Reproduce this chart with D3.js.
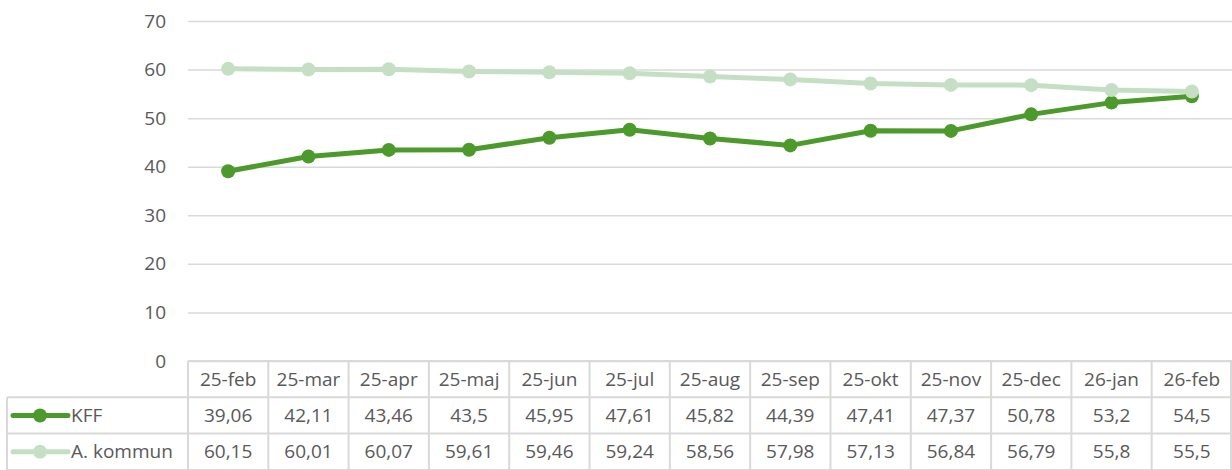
<!DOCTYPE html>
<html>
<head>
<meta charset="utf-8">
<script src="https://cdn.jsdelivr.net/npm/d3@7"></script>
<style>
  body { margin: 0; background: #fff; }
  svg { display: block; font-family: "Open Sans", "Liberation Sans", Arial, sans-serif; }
</style>
</head>
<body>
<svg width="1232" height="470"></svg>
<script>
// months on the x axis
var months = ['25-feb', '25-mar', '25-apr', '25-maj', '25-jun', '25-jul', '25-aug',
  '25-sep', '25-okt', '25-nov', '25-dec', '26-jan', '26-feb'];
var kff = [39.06, 42.11, 43.46, 43.5, 45.95, 47.61, 45.82, 44.39, 47.41, 47.37, 50.78, 53.2, 54.5];
var kommun = [60.15, 60.01, 60.07, 59.61, 59.46, 59.24, 58.56, 57.98, 57.13, 56.84, 56.79, 55.8, 55.5];
var yTicks = [0, 10, 20, 30, 40, 50, 60, 70];
var seriesNames = ['KFF', 'A. kommun'];
var seriesColors = ['#4b9a2b', '#c5dfc4'];

var svg = d3.select('svg');
var plotLeft = 188, plotRight = 1232, plotTop = 21, plotBottom = 361;
var rowH = 36.3;
var grid = '#d9d9d9', textCol = '#595959';
var fs = '19px';

// scales
var x = d3.scaleBand().domain(months).range([plotLeft, plotRight]);
var y = d3.scaleLinear().domain([0, 70]).range([plotBottom, plotTop]);
var cx = function (i) { return x(months[i]) + x.bandwidth() / 2; };

// gridlines + y labels
var yAxis = d3.axisLeft(y).tickValues(yTicks).tickSize(-(plotRight - plotLeft)).tickPadding(22);
var gy = svg.append('g').attr('transform', 'translate(' + plotLeft + ',0)').call(yAxis);
gy.select('.domain').remove();
gy.selectAll('line').attr('stroke', grid).attr('stroke-width', 1.5);
gy.selectAll('text').attr('fill', textCol).style('font-size', fs)
  .style('font-family', '"Open Sans", sans-serif');

// lines, KFF first so A. kommun sits on top
var series = [kff, kommun];
var line = d3.line()
  .x(function (d, i) { return cx(i); })
  .y(function (d) { return y(d); });

[0, 1].forEach(function (s) {
  svg.append('path')
    .datum(series[s])
    .attr('d', line)
    .attr('fill', 'none')
    .attr('stroke', seriesColors[s])
    .attr('stroke-width', 5)
    .attr('stroke-linejoin', 'round');
  svg.append('g').selectAll('circle')
    .data(series[s])
    .enter().append('circle')
    .attr('cx', function (d, i) { return cx(i); })
    .attr('cy', function (d) { return y(d); })
    .attr('r', 7)
    .attr('fill', seriesColors[s]);
});

// data table
var tbl = svg.append('g');
var tableLeft = 7;
[plotBottom + rowH, plotBottom + rowH * 2, 470].forEach(function (yy) {
  tbl.append('line').attr('x1', tableLeft).attr('x2', plotRight)
    .attr('y1', yy).attr('y2', yy).attr('stroke', grid).attr('stroke-width', 2);
});
tbl.append('line').attr('x1', plotLeft).attr('x2', plotRight)
  .attr('y1', plotBottom).attr('y2', plotBottom).attr('stroke', grid).attr('stroke-width', 2);
months.forEach(function (m) {
  tbl.append('line').attr('x1', x(m)).attr('x2', x(m))
    .attr('y1', plotBottom).attr('y2', 470).attr('stroke', grid).attr('stroke-width', 2);
});
tbl.append('line').attr('x1', plotRight - 1).attr('x2', plotRight - 1)
  .attr('y1', plotBottom).attr('y2', 470).attr('stroke', grid).attr('stroke-width', 2);
tbl.append('line').attr('x1', tableLeft).attr('x2', tableLeft)
  .attr('y1', plotBottom + rowH).attr('y2', 470).attr('stroke', grid).attr('stroke-width', 2);

// header labels
tbl.append('g').selectAll('text').data(months).enter().append('text')
  .attr('x', function (d) { return x(d) + x.bandwidth() / 2; })
  .attr('y', plotBottom + rowH / 2 + 6.5)
  .attr('text-anchor', 'middle')
  .attr('fill', textCol).style('font-size', fs)
  .text(function (d) { return d; });

var fmt = function (v) { return String(v).replace('.', ','); };
series.forEach(function (vals, s) {
  var cy = plotBottom + rowH * (s + 1) + rowH / 2;
  tbl.append('g').selectAll('text').data(vals).enter().append('text')
    .attr('x', function (d, i) { return cx(i); })
    .attr('y', cy + 6.5)
    .attr('text-anchor', 'middle')
    .attr('fill', textCol).style('font-size', fs)
    .text(fmt);
  // legend key
  tbl.append('line').attr('x1', 13).attr('x2', 68).attr('y1', cy).attr('y2', cy)
    .attr('stroke', seriesColors[s]).attr('stroke-width', 5).attr('stroke-linecap', 'round');
  tbl.append('circle').attr('cx', 40).attr('cy', cy).attr('r', 7).attr('fill', seriesColors[s]);
  tbl.append('text').attr('x', 71).attr('y', cy + 6.5)
    .attr('fill', textCol).style('font-size', fs).text(seriesNames[s]);
});
</script>
</body>
</html>
